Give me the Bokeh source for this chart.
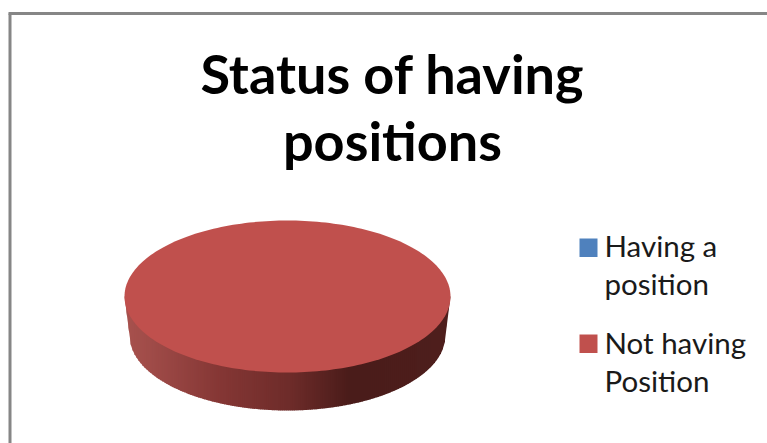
import numpy as np
from bokeh.embed import file_html
from bokeh.resources import INLINE
from bokeh.plotting import figure
from bokeh.models import Range1d
from bokeh.core.properties import value

categories = ["Having a\nposition", "Not having\nPosition"]
shares = [0, 100]
colors = ["#4f81bd", "#c0504d"]
title_lines = ["Status of having", "positions"]

# 3-D pie geometry, in reference pixels
CX, CY, RX, RY = 287, 296, 163, 76
BCY, BRX, BRY = 335, 158, 75
side_stops_x = [124, 150, 220, 290, 350, 450]
side_stops_rgb = [(168, 82, 78), (160, 76, 73), (133, 55, 53), (110, 44, 42), (74, 28, 26), (79, 31, 29)]

p = figure(width=767, height=443, output_backend="svg", toolbar_location=None,
           x_range=Range1d(0, 767), y_range=Range1d(443, 0),
           min_border=0, outline_line_color=None, background_fill_color="white",
           border_fill_color="white")
p.axis.visible = False
p.grid.visible = False

# frame
p.line([9.5, 9.5], [13, 443], line_color="#868686", line_width=3)
p.line([8, 767], [13, 13], line_color="#868686", line_width=3)

# side wall strips
strip_xs, strip_ys, strip_cols = [], [], []
def bot_y(x):
    d = abs(x - CX)
    if d > BRX:
        return BCY + (CY - BCY) * (d - BRX) / (RX - BRX)
    return BCY + BRY * np.sqrt(1 - (d / BRX) ** 2)
for x0 in np.arange(CX - RX, CX + RX, 2.0):
    x1 = min(x0 + 2.5, CX + RX)
    strip_xs.append([x0, x1, x1, x0])
    strip_ys.append([CY, CY, bot_y(x1), bot_y(x0)])
    m = (x0 + x1) / 2
    rgb = [int(np.interp(m, side_stops_x, [c[i] for c in side_stops_rgb])) for i in range(3)]
    strip_cols.append("#%02x%02x%02x" % tuple(rgb))
p.patches(strip_xs, strip_ys, fill_color=strip_cols, line_color=None)

# top face: one patch per category
total = sum(shares)
start = 0.0
for share, col in zip(shares, colors):
    a0 = start / total * 2 * np.pi
    a1 = (start + share) / total * 2 * np.pi
    t = np.linspace(a0, a1, 241)
    p.patch(list(CX + RX * np.sin(t)), list(CY - RY * np.cos(t)), fill_color=col, line_color=None)
    start += share

# title
p.text([392, 392], [73, 140], text=title_lines, text_font=value("Lato"),
       text_font_style="bold", text_font_size="54px", text_color="#000000",
       text_align="center", text_baseline="alphabetic")

# legend
for i, (cat, col) in enumerate(zip(categories, colors)):
    top = 238 + i * 96
    p.quad(left=[579], right=[597], top=[top], bottom=[top + 18.5], fill_color=col, line_color=None)
    lines = cat.split("\n")
    p.text([604] * 2, [top + 7 + i, top + 45 + i], text=lines, text_font=value("Lato"),
           text_font_size="29.5px", text_color="#1a1a1a",
           text_align="left", text_baseline="alphabetic")

open("out.html", "w").write(file_html(p, INLINE))
